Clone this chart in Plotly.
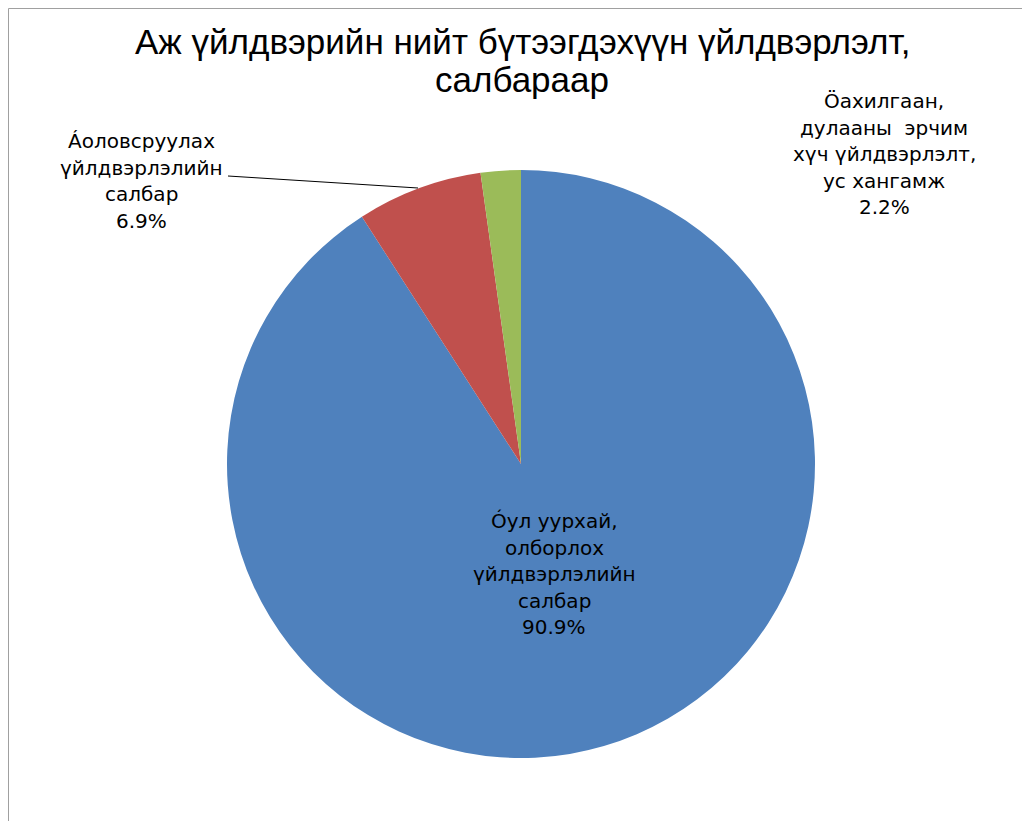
import plotly.graph_objects as go

labels = ["Óул уурхай, олборлох үйлдвэрлэлийн салбар",
          "Áоловсруулах үйлдвэрлэлийн салбар",
          "Öахилгаан, дулааны эрчим хүч үйлдвэрлэлт, ус хангамж"]
label_lines = [["Óул уурхай,", "олборлох", "үйлдвэрлэлийн", "салбар"],
               ["Áоловсруулах", "үйлдвэрлэлийн", "салбар"],
               ["Öахилгаан,", "дулааны  эрчим", "хүч үйлдвэрлэлт,", "ус хангамж"]]
values = [90.9, 6.9, 2.2]
colors = ["#4F81BD", "#C0504D", "#9BBB59"]
title_lines = ["Аж үйлдвэрийн нийт бүтээгдэхүүн үйлдвэрлэлт,", "салбараар"]

# page body has an 8px margin; work in screen pixels and convert
OFF = 8
W, H = 1030 - OFF, 821 - OFF
FONT = "Liberation Sans, Arial, sans-serif"
LABEL_FONT = "DejaVu Sans, Liberation Sans, sans-serif"

def px(x):
    return (x - OFF) / W

def py(y):
    return 1 - (y - OFF) / H

CX, CY, R = 521, 464, 294

fig = go.Figure(go.Pie(
    labels=labels, values=values, sort=False, direction="clockwise", rotation=0,
    marker=dict(colors=colors, line=dict(width=0)),
    textinfo="none", hoverinfo="label+percent", showlegend=False,
    domain=dict(x=[px(CX - R), px(CX + R)], y=[py(CY + R), py(CY - R)]),
))

annotations = []
# label block anchors (screen px): centre x, first-line y
anchors = [(554, 521), (141, 141), (884, 101)]
LS = 26.5
for i, (ax, ay) in enumerate(anchors):
    lines = label_lines[i] + [f"{values[i]}%"]
    for j, t in enumerate(lines):
        annotations.append(dict(
            x=px(ax), y=py(ay + j * LS), text=t, xref="paper", yref="paper",
            showarrow=False, xanchor="center", yanchor="middle",
            font=dict(family=LABEL_FONT, size=20, color="#000000")))

for t, ty in zip(title_lines, [41.5, 79.5]):
    annotations.append(dict(
        x=px(522), y=py(ty), text=t, xref="paper", yref="paper",
        showarrow=False, xanchor="center", yanchor="middle",
        font=dict(family=FONT, size=35, color="#000000")))

shapes = [
    # leader line for red slice label
    dict(type="line", xref="paper", yref="paper", x0=px(228), y0=py(176),
         x1=px(418), y1=py(188), line=dict(color="black", width=1)),
    # chart border
    dict(type="line", xref="paper", yref="paper", x0=px(8.5), y0=py(8.5),
         x1=px(1024), y1=py(8.5), line=dict(color="#A0A0A0", width=1)),
    dict(type="line", xref="paper", yref="paper", x0=px(8.5), y0=py(8.5),
         x1=px(8.5), y1=py(830), line=dict(color="#A0A0A0", width=1)),
    dict(type="line", xref="paper", yref="paper", x0=px(1024), y0=py(8.5),
         x1=px(1024), y1=py(830), line=dict(color="#909090", width=2)),
]

fig.update_layout(
    width=W, height=H, margin=dict(l=0, r=0, t=0, b=0),
    paper_bgcolor="white", plot_bgcolor="white",
    annotations=annotations, shapes=shapes,
)

fig.write_html("out.html")
